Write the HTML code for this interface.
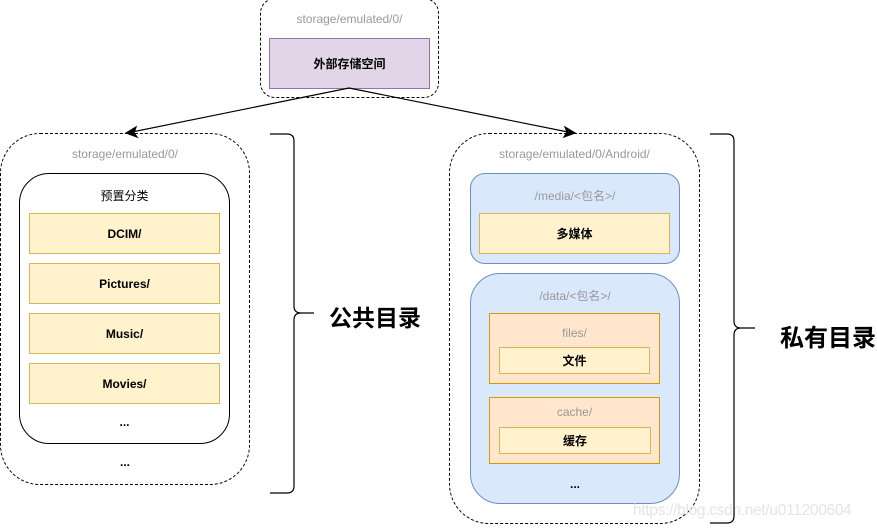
<!DOCTYPE html><html><head><meta charset="utf-8"><style>
body{margin:0;width:877px;height:531px;position:relative;background:#fff;font-family:"Liberation Sans","Noto Sans CJK SC",sans-serif;overflow:hidden}
div{position:absolute;box-sizing:border-box}
.t{text-align:center;font-size:12px;color:#000}
.g{color:#999}
.y{background:#fff2cc;border:1px solid #d6b656;font-weight:bold;font-size:12px;display:flex;align-items:center;justify-content:center}
.o{background:#ffe6cc;border:1px solid #d79b00}
.b{background:#dae8fc;border:1px solid #6c8ebf}
</style></head><body>
<div style="left:260px;top:-2px;width:179px;height:100px;border:1px dashed #000;border-radius:15px"></div>
<div class="t g" style="left:260px;top:12px;width:179px">storage/emulated/0/</div>
<div class="y" style="left:269px;top:38px;width:161px;height:51px;background:#e1d5e7;border-color:#9673a6">外部存储空间</div>

<div style="left:0;top:133px;width:250px;height:352px;border:1px dashed #000;border-radius:40px"></div>
<div class="t g" style="left:0;top:147px;width:250px">storage/emulated/0/</div>
<div style="left:19px;top:173px;width:211px;height:271px;border:1px solid #000;border-radius:30px"></div>
<div class="t" style="left:19px;top:187px;width:211px">预置分类</div>
<div class="y" style="left:29px;top:213px;width:191px;height:41px">DCIM/</div>
<div class="y" style="left:29px;top:263px;width:191px;height:41px">Pictures/</div>
<div class="y" style="left:29px;top:313px;width:191px;height:41px">Music/</div>
<div class="y" style="left:29px;top:363px;width:191px;height:41px">Movies/</div>
<div class="t" style="left:19px;top:415px;width:211px;font-weight:bold">...</div>
<div class="t" style="left:0;top:455px;width:250px;font-weight:bold">...</div>
<div style="left:329px;top:299px;font-size:23px;font-weight:bold">公共目录</div>

<div style="left:449px;top:133px;width:251px;height:391px;border:1px dashed #000;border-radius:40px"></div>
<div class="t g" style="left:449px;top:147px;width:251px">storage/emulated/0/Android/</div>
<div class="b" style="left:470px;top:173px;width:210px;height:91px;border-radius:15px"></div>
<div class="t g" style="left:470px;top:187px;width:210px">/media/&lt;包名&gt;/</div>
<div class="y" style="left:479px;top:213px;width:191px;height:41px">多媒体</div>
<div class="b" style="left:470px;top:273px;width:210px;height:231px;border-radius:30px"></div>
<div class="t g" style="left:470px;top:287px;width:210px">/data/&lt;包名&gt;/</div>
<div class="o" style="left:489px;top:313px;width:171px;height:71px"></div>
<div class="t g" style="left:489px;top:326px;width:171px">files/</div>
<div class="y" style="left:499px;top:347px;width:151px;height:27px">文件</div>
<div class="o" style="left:489px;top:397px;width:171px;height:67px"></div>
<div class="t g" style="left:489px;top:405px;width:171px">cache/</div>
<div class="y" style="left:499px;top:427px;width:152px;height:27px">缓存</div>
<div class="t" style="left:470px;top:477px;width:210px;font-weight:bold">...</div>
<div style="left:780px;top:318px;font-size:24px;font-weight:bold">私有目录</div>
<div style="left:633px;top:502px;font-size:15.5px;color:#e4e4e4;letter-spacing:-0.3px">https://blog.csdn.net/u011200604</div>

<svg width="877" height="531" style="position:absolute;left:0;top:0" fill="none" stroke="#000" stroke-width="1.2">
<path d="M349 88 L132 132"/><path d="M126 133 L136 127 L134 133 L137 137Z" fill="#000"/>
<path d="M349 88 L568 132"/><path d="M575 133 L564 137 L567 132 L565 127Z" fill="#000"/>
<path d="M270 134 H287 Q294 134 294 141 V306 Q294 313 301 313 H314 M301 313 Q294 313 294 320 V486 Q294 493 287 493 H270"/>
<path d="M710 134 H727 Q734 134 734 141 V321 Q734 328 741 328 H755 M741 328 Q734 328 734 335 V516 Q734 523 727 523 H710"/>
</svg>
</body></html>
